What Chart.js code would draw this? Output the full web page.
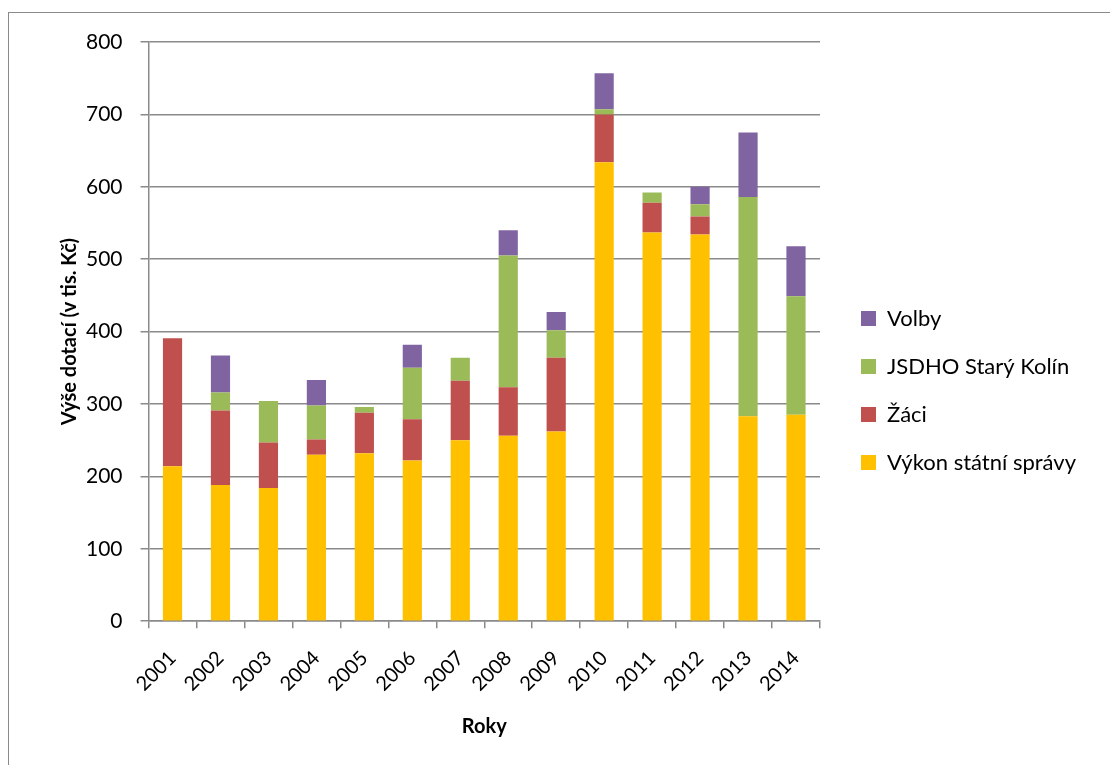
<!DOCTYPE html>
<html>
<head>
<meta charset="utf-8">
<script src="https://cdn.jsdelivr.net/npm/chart.js@4.4.1/dist/chart.umd.min.js"></script>
<style>
  html, body { margin: 0; padding: 0; background: #fff; overflow: hidden; }
  #wrap { position: relative; width: 1110px; height: 765px; }
  #frame { position: absolute; left: 8px; top: 12px; width: 1200px; height: 900px;
           border: 1.5px solid #8a8a8a; box-sizing: border-box; pointer-events: none; }
  canvas { position: absolute; left: 0; top: 0; }
</style>
</head>
<body>
<div id="wrap">
  <canvas id="chart" width="1110" height="765"></canvas>
  <div id="frame"></div>
</div>
<script>
/* ── data ── */
const YEARS  = ['2001', '2002', '2003', '2004', '2005', '2006', '2007',
                '2008', '2009', '2010', '2011', '2012', '2013', '2014'];
const VYKON  = [214, 188, 184, 230, 232, 222, 250, 256, 262, 634, 537, 534, 283, 285];
const ZACI   = [177, 103,  63,  21,  56,  57,  82,  67, 102,  66,  41,  25,   0,   0];
const JSDHO  = [  0,  25,  57,  47,   8,  71,  32, 182,  38,   7,  14,  17, 303, 164];
const VOLBY  = [  0,  51,   0,  35,   0,  32,   0,  35,  25,  50,   0,  24,  89,  69];
const Y_TICKS = [0, 100, 200, 300, 400, 500, 600, 700, 800];

const FONT = 'Lato, "Open Sans", sans-serif';
const GRID = '#8a8a8a';
const LEGEND_GAP = 15;

function series(label, data, color) {
  return {
    label, data,
    backgroundColor: color,
    borderWidth: 0,
    barPercentage: 0.4,
    categoryPercentage: 1.0,
    stack: 's',
  };
}

/* ── extra gap between plot and legend ── */
const legendGap = {
  id: 'legendGap',
  afterInit(chart) {
    const lg = chart.legend;
    if (!lg) return;
    const fit = lg.fit, draw = lg.draw;
    lg.fit = function () { fit.call(this); this.width += LEGEND_GAP; };
    lg.draw = function () {
      this.ctx.save();
      this.ctx.translate(LEGEND_GAP, 0);
      draw.call(this);
      this.ctx.restore();
    };
  },
};

/* ── build chart ── */
const ctx = document.getElementById('chart').getContext('2d');
new Chart(ctx, {
  type: 'bar',
  data: {
    labels: YEARS,
    datasets: [
      series('Výkon státní správy', VYKON, '#FFC000'),
      series('Žáci',                ZACI,  '#C0504D'),
      series('JSDHO Starý Kolín',   JSDHO, '#9BBB59'),
      series('Volby',               VOLBY, '#8064A2'),
    ],
  },
  plugins: [legendGap],
  options: {
    animation: false,
    responsive: false,
    layout: { padding: { top: 42, left: 58, right: 24, bottom: 26 } },
    plugins: {
      legend: {
        position: 'right',
        reverse: true,
        labels: {
          color: '#000',
          font: { family: FONT, size: 22 },
          boxWidth: 15,
          boxHeight: 15,
          padding: 26,
        },
      },
      tooltip: { enabled: false },
    },
    scales: {
      x: {
        stacked: true,
        grid: { display: true, drawOnChartArea: false, drawTicks: true, tickLength: 7, color: GRID, lineWidth: 1.5 },
        border: { color: GRID, width: 1.5 },
        ticks: { color: '#000', font: { family: FONT, size: 20 }, minRotation: 45, maxRotation: 45, padding: 18 },
        title: { display: true, text: 'Roky', color: '#000', font: { family: FONT, size: 20, weight: 'bold' }, padding: { top: 1, bottom: 0 } },
      },
      y: {
        stacked: true,
        min: 0, max: 800,
        afterBuildTicks: s => { s.ticks = Y_TICKS.map(v => ({ value: v })); },
        grid: { color: GRID, lineWidth: 1.5, tickLength: 8 },
        border: { color: GRID, width: 1.5 },
        ticks: { color: '#000', font: { family: FONT, size: 21 }, padding: 18 },
        title: { display: true, text: 'Výše dotací (v tis. Kč)', color: '#000', font: { family: FONT, size: 20, weight: 'bold' }, padding: { top: 0, bottom: -14 } },
      },
    },
  },
});
</script>
</body>
</html>
